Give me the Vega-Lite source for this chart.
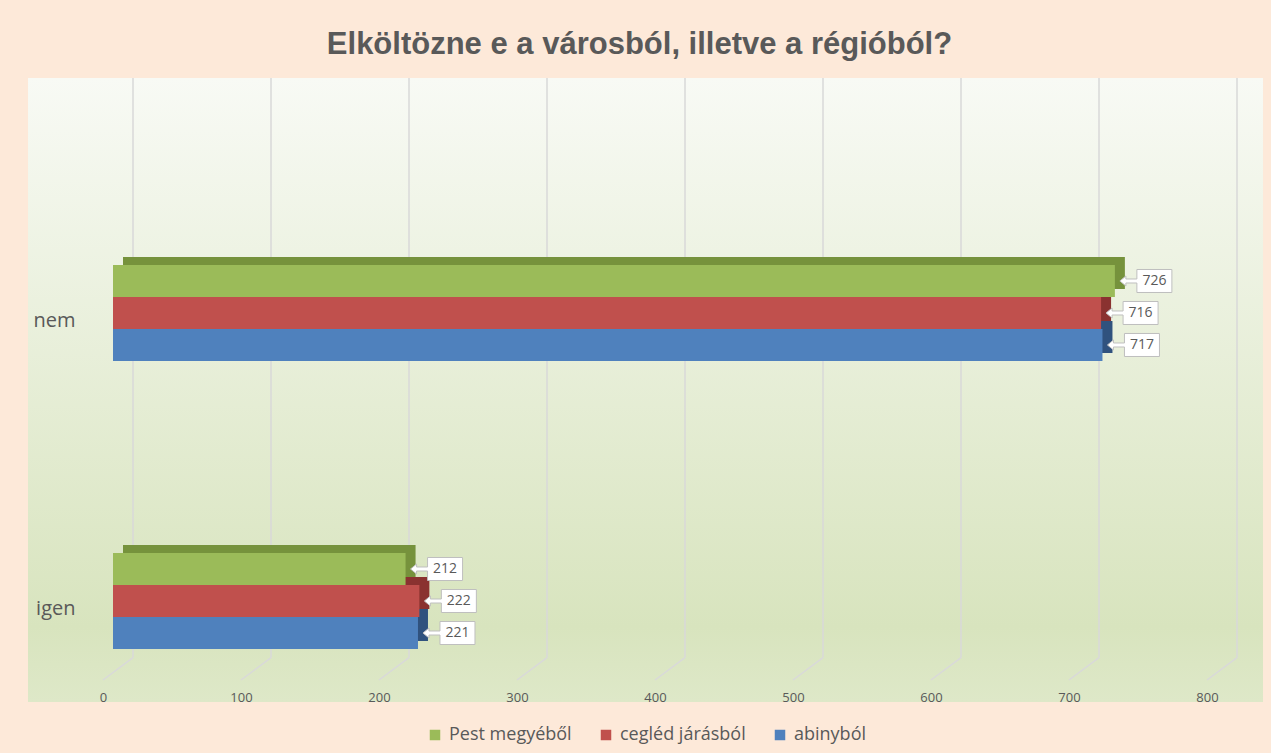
{
  "$schema": "https://vega.github.io/schema/vega-lite/v6.json",
  "width": 1235,
  "height": 624,
  "autosize": {"type": "none"},
  "padding": {"left": 28, "top": 78, "right": 8, "bottom": 51},
  "background": "#FDE9D9",
  "view": {
    "fill": {"gradient": "linear", "x1": 0, "y1": 0, "x2": 0, "y2": 1,
      "stops": [{"offset": 0, "color": "#F8FAF5"}, {"offset": 0.88, "color": "#D8E4BE"}, {"offset": 1, "color": "#DEE8C8"}]},
    "stroke": null
  },
  "title": {"text": "Elköltözne e a városból, illetve a régióból?", "font": "Liberation Sans", "fontSize": 31, "fontWeight": "bold", "color": "#595959", "anchor": "middle", "frame": "group", "offset": -8, "baseline": "alphabetic", "dx": -6},
  "datasets": {
    "bars": [
      {"valasz": "nem", "sorozat": "Pest megyéből", "ertek": 726},
      {"valasz": "nem", "sorozat": "cegléd járásból", "ertek": 716},
      {"valasz": "nem", "sorozat": "abinyból", "ertek": 717},
      {"valasz": "igen", "sorozat": "Pest megyéből", "ertek": 212},
      {"valasz": "igen", "sorozat": "cegléd járásból", "ertek": 222},
      {"valasz": "igen", "sorozat": "abinyból", "ertek": 221}
    ],
    "ticks": [{"t": 0}, {"t": 100}, {"t": 200}, {"t": 300}, {"t": 400}, {"t": 500}, {"t": 600}, {"t": 700}, {"t": 800}]
  },
  "layer": [
    {
      "data": {"name": "ticks"},
      "layer": [
        {
          "mark": {"type": "rule", "color": "#D9D9D9", "strokeWidth": 1.5},
          "encoding": {
            "x": {"field": "t", "type": "quantitative",
              "scale": {"domain": [0, 800], "range": [105, 1209], "nice": false, "zero": false},
              "axis": {"orient": "bottom", "values": [0, 100, 200, 300, 400, 500, 600, 700, 800], "labelOffset": -30, "ticks": false, "domain": false, "grid": false, "offset": -13, "labelPadding": 2, "labelFont": "Open Sans", "labelFontSize": 13, "labelColor": "#595959", "labelFlush": false, "labelOverlap": false, "title": null}},
            "y": {"datum": 0, "type": "quantitative", "scale": {"domain": [0, 100], "range": [0, 602], "nice": false, "zero": false}, "axis": null},
            "y2": {"datum": 96.3}
          }
        },
        {
          "mark": {"type": "rule", "color": "#D9D9D9", "strokeWidth": 1.5, "x2Offset": -30},
          "encoding": {
            "x": {"field": "t", "type": "quantitative"},
            "x2": {"field": "t"},
            "y": {"datum": 96.3, "type": "quantitative"},
            "y2": {"datum": 100}
          }
        }
      ]
    },
    {
      "data": {"name": "bars"},
      "mark": {"type": "bar", "orient": "horizontal"},
      "encoding": {
        "y": {"field": "valasz", "type": "nominal", "sort": ["nem", "igen"], "scale": {"range": [83, 659], "paddingInner": 0.6667, "paddingOuter": 0.3333}, "axis": null},
        "yOffset": {"field": "sorozat", "type": "nominal", "sort": ["Pest megyéből", "cegléd járásból", "abinyból"], "scale": {"paddingInner": 0, "paddingOuter": 0}},
        "x": {"field": "ertek", "type": "quantitative", "scale": {"domain": [0, 800], "range": [95, 1199], "nice": false}, "axis": null},
        "color": {"field": "sorozat", "type": "nominal", "scale": {"domain": ["Pest megyéből", "cegléd járásból", "abinyból"], "range": ["#76923C", "#8A3230", "#30527E"]}, "legend": null}
      }
    },
    {
      "data": {"name": "bars"},
      "encoding": {
        "y": {"field": "valasz", "type": "nominal", "sort": ["nem", "igen"], "scale": {"range": [91, 667], "paddingInner": 0.6667, "paddingOuter": 0.3333},
          "axis": {"orient": "left", "offset": -49, "labelPadding": 2, "ticks": false, "domain": false, "grid": false, "labelOffset": 8, "labelFont": "Open Sans", "labelFontSize": 20, "labelColor": "#595959", "title": null}},
        "yOffset": {"field": "sorozat", "type": "nominal", "sort": ["Pest megyéből", "cegléd járásból", "abinyból"], "scale": {"paddingInner": 0, "paddingOuter": 0}},
        "x": {"field": "ertek", "type": "quantitative", "scale": {"domain": [0, 800], "range": [85, 1189], "nice": false}, "axis": null}
      },
      "layer": [
        {
          "mark": {"type": "bar", "orient": "horizontal"},
          "encoding": {
            "color": {"field": "sorozat", "type": "nominal", "scale": {"domain": ["Pest megyéből", "cegléd járásból", "abinyból"], "range": ["#9BBB59", "#C0504D", "#4F81BD"]},
              "legend": {"orient": "none", "legendX": 398, "legendY": 648, "direction": "horizontal", "title": null, "symbolType": "square", "symbolSize": 110, "symbolStrokeWidth": 0, "labelFont": "Open Sans", "labelFontSize": 18, "labelColor": "#595959", "columnPadding": 25, "labelOffset": 5}}
          }
        },
        {
          "mark": {"type": "point", "shape": "M5,0L11,-5L11,-2L22,-2L22,-11.5L57,-11.5L57,11.5L22,11.5L22,2L11,2L11,5Z", "size": 4, "filled": true, "fill": "white", "stroke": "#BFBFBF", "strokeWidth": 1, "opacity": 1}
        },
        {
          "mark": {"type": "text", "dx": 39.5, "align": "center", "baseline": "middle", "font": "Open Sans", "fontSize": 14, "color": "#595959"},
          "encoding": {"text": {"field": "ertek", "type": "quantitative"}}
        }
      ]
    }
  ],
  "resolve": {
    "scale": {"x": "independent", "y": "independent", "color": "independent", "yOffset": "independent"},
    "axis": {"x": "independent", "y": "independent"}
  }
}
